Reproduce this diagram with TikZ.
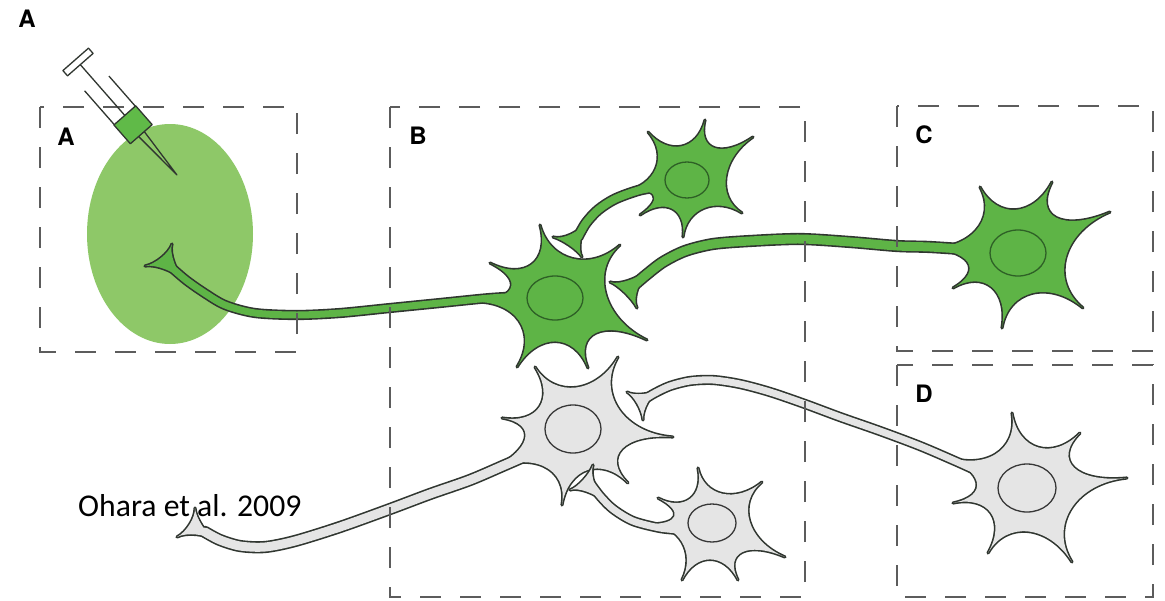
\documentclass[tikz,border=0pt]{standalone}
\usepackage{fontspec}
\setmainfont{TeX Gyre Heros}
\newfontfamily\citefont{Carlito}
\usetikzlibrary{calc}

\definecolor{cellgreen}{RGB}{94,180,70}
\definecolor{hubgreen}{RGB}{96,186,72}
\definecolor{sitegreen}{RGB}{142,200,104}
\definecolor{cellgray}{RGB}{229,229,229}
\definecolor{rim}{RGB}{48,54,48}
\definecolor{nucgreen}{RGB}{46,96,38}
\definecolor{nucgray}{RGB}{55,55,55}
\definecolor{boxgray}{RGB}{92,92,92}

% one concave arc of a cell body, from tip #2 to tip #3 around centre #1
\newcommand\lobek{0.5}
\newcommand\lobe[3]{.. controls ($(#1)!\lobek!(#2)$) and ($(#1)!\lobek!(#3)$) .. (#3)}
% star-shaped outline: style, centre, first tip, remaining tips (ending with the first)
\newcommand\cellpath[4]{%
  \path[#1] (#3) \foreach \tipb [remember=\tipb as \tipa (initially #3)] in {#4} {\lobe{#2}{\tipa}{\tipb}} -- cycle;}

\tikzset{
  rimpass/.style={body/.style={draw=rim,line width=3.2,line join=round},
                  tube/.style={draw=rim,line width=##1+3.2,line cap=round}},
  greenpass/.style={body/.style={fill=cellgreen},
                    tube/.style={draw=cellgreen,line width=##1,line cap=round}},
  graypass/.style={body/.style={fill=cellgray},
                   tube/.style={draw=cellgray,line width=##1,line cap=round}},
  nuc/.style={draw=#1,line width=1.3},
  boxline/.style={draw=boxgray,line width=2.5,dash pattern=on 21pt off 19pt},
  lbl/.style={font=\fontsize{24}{28}\selectfont\bfseries,inner sep=0pt},
  syr/.style={draw=rim,line width=1.3,line join=round},
}

\begin{document}
\begin{tikzpicture}[x=1pt,y=-1pt]
\useasboundingbox (0,0) rectangle (1165,600);
\fill[white] (0,0) rectangle (1165,600);

% injection site
\fill[sitegreen] (170,234) ellipse [x radius=83, y radius=110];

% ---- cell centres, spike tips and terminal tips ----
% upper grey cell
\coordinate (n4) at (575,430);
\coordinate (n4t) at (618,357); \coordinate (n4r) at (673,437); \coordinate (n4br) at (628,483);
\coordinate (n4b) at (562,505); \coordinate (n4ax) at (488,471); \coordinate (n4l) at (502,418);
\coordinate (n4tl) at (535,367);
\coordinate (n4k) at (196,527); \coordinate (n4k1) at (195,508); \coordinate (n4k2) at (177,537);
\coordinate (n4k3) at (216,541);
% lower grey cell
\coordinate (n5) at (710,525);
\coordinate (n5t) at (698,468); \coordinate (n5ru) at (762,482); \coordinate (n5rl) at (785,557);
\coordinate (n5br) at (738,580); \coordinate (n5bl) at (682,580); \coordinate (n5ax) at (648,524);
\coordinate (n5ul) at (658,498);
\coordinate (n5k) at (586,484); \coordinate (n5k1) at (593,465); \coordinate (n5k2) at (570,490);
\coordinate (n5k3) at (606,503);
% grey cell in D
\coordinate (n6) at (1025,488);
\coordinate (n6t) at (1012,413); \coordinate (n6ur) at (1080,433); \coordinate (n6r) at (1127,478);
\coordinate (n6lr) at (1072,562); \coordinate (n6bl) at (988,553); \coordinate (n6l) at (953,503);
\coordinate (n6ax) at (943,455);
\coordinate (n6k) at (641,400); \coordinate (n6k1) at (627,392); \coordinate (n6k2) at (643,420);
\coordinate (n6k3) at (660,389);
% central green cell
\coordinate (g1) at (560,298);
\coordinate (g1t) at (540,225); \coordinate (g1ur) at (620,245); \coordinate (g1rl) at (647,340);
\coordinate (g1b2) at (588,368); \coordinate (g1b1) at (517,367); \coordinate (g1ax) at (472,302);
\coordinate (g1l) at (490,263);
\coordinate (g1k) at (166,262); \coordinate (g1k1) at (172,244); \coordinate (g1k2) at (145,266);
\coordinate (g1k3) at (186,282);
% upper green cell
\coordinate (g2) at (690,180);
\coordinate (g2t) at (705,120); \coordinate (g2r) at (753,137); \coordinate (g2lr) at (742,213);
\coordinate (g2b) at (683,237); \coordinate (g2ll) at (640,215); \coordinate (g2ax) at (622,192);
\coordinate (g2ul) at (648,132);
\coordinate (g2k) at (573,243); \coordinate (g2k1) at (553,237); \coordinate (g2k2) at (582,257);
\coordinate (g2k3) at (588,220);
% green cell in C
\coordinate (g3) at (1015,252);
\coordinate (g3t) at (1052,182); \coordinate (g3r) at (1110,212); \coordinate (g3lr) at (1083,308);
\coordinate (g3b) at (1002,328); \coordinate (g3ll) at (953,288); \coordinate (g3ax) at (925,248);
\coordinate (g3tl) at (980,187);
\coordinate (g3k) at (627,289); \coordinate (g3k1) at (610,282); \coordinate (g3k2) at (637,308);
\coordinate (g3k3) at (652,267);

% ---- grey cells: outline pass, then fill pass ----
\foreach \cellpass in {rimpass,graypass}{
  \begin{scope}[\cellpass]
    \cellpath{body}{n4}{n4t}{n4r,n4br,n4b,n4ax,n4l,n4tl,n4t}
    \draw[tube=9] plot[smooth] coordinates {(535,452) (505,465) (470,480) (430,494) (390,509)
      (340,527) (295,541) (265,547) (240,546) (220,540) (205,532)};
    \cellpath{body}{n4k}{n4k1}{n4k2,n4k3,n4k1}
  \end{scope}
}
\draw[nuc=nucgray] (573,429) ellipse [x radius=28, y radius=24];

\foreach \cellpass in {rimpass,graypass}{
  \begin{scope}[\cellpass]
    \cellpath{body}{n5}{n5t}{n5ru,n5rl,n5br,n5bl,n5ax,n5ul,n5t}
    \draw[tube=7] plot[smooth] coordinates {(680,530) (660,528) (633,521) (613,509) (600,496) (591,484)};
    \cellpath{body}{n5k}{n5k1}{n5k2,n5k3,n5k1}
  \end{scope}
}
\draw[nuc=nucgray] (712,523) ellipse [x radius=24, y radius=19];

\foreach \cellpass in {rimpass,graypass}{
  \begin{scope}[\cellpass]
    \cellpath{body}{n6}{n6t}{n6ur,n6r,n6lr,n6bl,n6l,n6ax,n6t}
    \draw[tube=7] plot[smooth] coordinates {(975,470) (955,461) (920,446) (880,431) (840,417)
      (805,404) (770,392) (740,384) (713,380) (690,381) (670,386) (655,393) (645,399)};
    \cellpath{body}{n6k}{n6k1}{n6k2,n6k3,n6k1}
  \end{scope}
}
\draw[nuc=nucgray] (1027,488) ellipse [x radius=29, y radius=24];

% ---- green cells ----
\foreach \cellpass in {rimpass,greenpass}{
  \begin{scope}[\cellpass]
    \cellpath{body}{g1}{g1t}{g1ur,g1rl,g1b2,g1b1,g1ax,g1l,g1t}
    \draw[tube=7] plot[smooth] coordinates {(525,296) (490,298) (440,303) (390,308) (340,313)
      (297,315) (255,313) (225,305) (203,292) (186,280) (172,268)};
    \cellpath{body}{g1k}{g1k1}{g1k2,g1k3,g1k1}
  \end{scope}
}
\draw[nuc=nucgreen] (555,298) ellipse [x radius=28, y radius=22];

\foreach \cellpass in {rimpass,greenpass}{
  \begin{scope}[\cellpass]
    \cellpath{body}{g2}{g2t}{g2r,g2lr,g2b,g2ll,g2ax,g2ul,g2t}
    \draw[tube=8] plot[smooth] coordinates {(665,186) (640,190) (615,199) (598,210) (586,223) (578,237)};
    \cellpath{body}{g2k}{g2k1}{g2k2,g2k3,g2k1}
  \end{scope}
}
\draw[nuc=nucgreen] (687,180) ellipse [x radius=22, y radius=18];

\foreach \cellpass in {rimpass,greenpass}{
  \begin{scope}[\cellpass]
    \cellpath{body}{g3}{g3t}{g3r,g3lr,g3b,g3ll,g3ax,g3tl,g3t}
    \draw[tube=9] plot[smooth] coordinates {(975,250) (930,247) (897,246) (850,242) (800,239)
      (750,241) (713,244) (685,251) (663,262) (646,275) (632,287)};
    \cellpath{body}{g3k}{g3k1}{g3k2,g3k3,g3k1}
  \end{scope}
}
\draw[nuc=nucgreen] (1018,253) ellipse [x radius=28, y radius=23];

% ---- regions ----
\draw[boxline] (40,107) rectangle (297,352);
\draw[boxline] (390,107) rectangle (805,597);
\draw[boxline] (897,106) rectangle (1153,351);
\draw[boxline] (897,365) rectangle (1153,597);

% ---- syringe (local frame: first axis along the needle) ----
\begin{scope}[shift={(78,62)}, x={(0.659pt,-0.752pt)}, y={(0.752pt,0.659pt)}]
  \draw[syr] (3.5,0) -- (71,0);
  \draw[syr] (26,-14) -- (71,-14);
  \draw[syr] (31,14) -- (71,14);
  \draw[syr,fill=white] (-3.5,-17) -- (3.5,-17) -- (3.5,17) -- (-3.5,17) -- cycle;
  \draw[syr] (96,-3.5) -- (150,0) -- (96,4);
  \draw[syr,fill=hubgreen] (71,-14.5) -- (96,-14.5) -- (96,14.5) -- (71,14.5) -- cycle;
\end{scope}

% ---- labels ----
\node[lbl] (panel) at (27,19) {A};
\node[lbl] (regA) at (66,137) {A};
\node[lbl] (regB) at (418,136) {B};
\node[lbl] (regC) at (924,135) {C};
\node[lbl] (regD) at (924,394) {D};
\node[anchor=base west,inner sep=0pt,font=\citefont\fontsize{31.7}{36}\selectfont] (cite) at (78,516) {Ohara et al. 2009};
\end{tikzpicture}
\end{document}
